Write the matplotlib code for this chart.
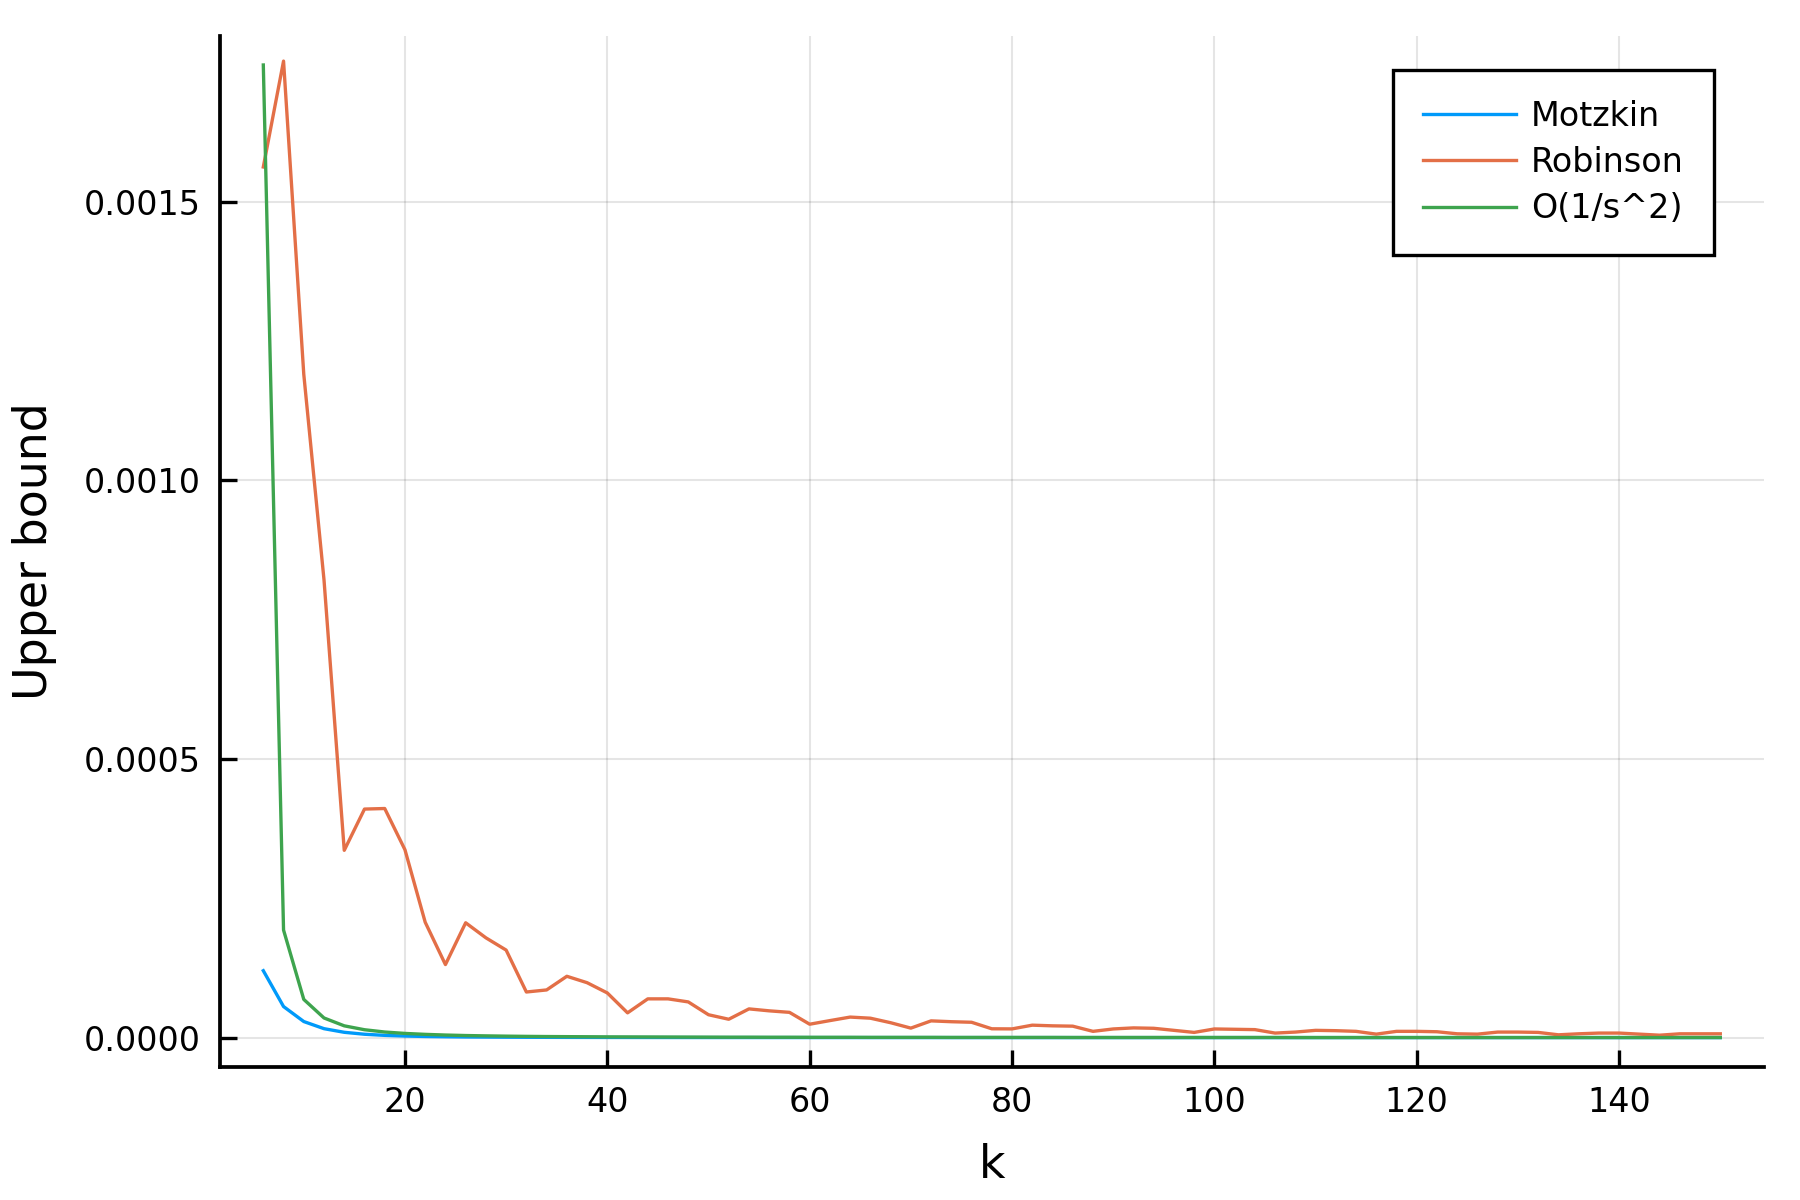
import matplotlib
matplotlib.use('Agg')
from matplotlib import pyplot as plt
from matplotlib.ticker import FormatStrFormatter


K = [6, 8, 10, 12, 14, 16, 18, 20, 22, 24, 26, 28, 30, 32, 34, 36, 38, 40,
     42, 44, 46, 48, 50, 52, 54, 56, 58, 60, 62, 64, 66, 68, 70, 72, 74, 76,
     78, 80, 82, 84, 86, 88, 90, 92, 94, 96, 98, 100, 102, 104, 106, 108,
     110, 112, 114, 116, 118, 120, 122, 124, 126, 128, 130, 132, 134, 136,
     138, 140, 142, 144, 146, 148, 150]

MOTZKIN = [1.20e-4, 5.57e-5, 2.88e-5, 1.60e-5, 9.5e-6, 6.0e-6, 4.0e-6, 2.8e-6,
           2.0e-6, 1.5e-6, 1.1e-6, 9.0e-7, 7.0e-7, 5.5e-7, 4.5e-7, 3.7e-7,
           3.1e-7, 2.6e-7, 2.2e-7, 1.9e-7, 1.6e-7, 1.4e-7, 1.2e-7, 1.1e-7,
           1.0e-7, 9e-8, 8e-8, 7e-8, 7e-8, 6e-8, 6e-8, 5e-8, 5e-8, 5e-8,
           4e-8, 4e-8, 4e-8, 3e-8, 3e-8, 3e-8, 3e-8, 3e-8, 2e-8, 2e-8,
           2e-8, 2e-8, 2e-8, 2e-8, 2e-8, 2e-8, 1e-8, 1e-8, 1e-8, 1e-8,
           1e-8, 1e-8, 1e-8, 1e-8, 1e-8, 1e-8, 1e-8, 1e-8, 1e-8, 1e-8,
           1e-8, 1e-8, 1e-8, 1e-8, 1e-8, 1e-8, 1e-8, 1e-8, 1e-8]

ROBINSON = [1.562e-3, 1.752e-3, 1.190e-3, 8.21e-4, 3.36e-4, 4.10e-4, 4.11e-4,
            3.37e-4, 2.07e-4, 1.31e-4, 2.06e-4, 1.79e-4, 1.57e-4, 8.18e-5,
            8.55e-5, 1.10e-4, 9.85e-5, 8.01e-5, 4.44e-5, 6.95e-5, 6.95e-5,
            6.40e-5, 4.10e-5, 3.29e-5, 5.15e-5, 4.80e-5, 4.53e-5, 2.40e-5,
            3.05e-5, 3.68e-5, 3.48e-5, 2.67e-5, 1.70e-5, 3.00e-5, 2.85e-5,
            2.75e-5, 1.58e-5, 1.56e-5, 2.23e-5, 2.11e-5, 2.05e-5, 1.12e-5,
            1.55e-5, 1.74e-5, 1.67e-5, 1.30e-5, 9.3e-6, 1.55e-5, 1.49e-5,
            1.43e-5, 8.1e-6, 9.9e-6, 1.30e-5, 1.24e-5, 1.12e-5, 6.2e-6,
            1.12e-5, 1.12e-5, 1.05e-5, 6.8e-6, 6.2e-6, 9.9e-6, 9.9e-6, 9.3e-6,
            5.0e-6, 6.8e-6, 8.1e-6, 8.1e-6, 6.2e-6, 4.3e-6, 6.8e-6, 6.8e-6,
            6.8e-6]

ORDER_BOUND = [1.745e-3, 1.93e-4, 6.85e-5, 3.52e-5, 2.11e-5, 1.41e-5, 1.00e-5,
               7.5e-6, 5.8e-6, 4.6e-6, 3.7e-6, 3.1e-6, 2.6e-6, 2.2e-6, 1.9e-6,
               1.7e-6, 1.5e-6, 1.3e-6, 1.2e-6, 1.1e-6, 1.0e-6, 9e-7, 8e-7,
               7e-7, 7e-7, 6e-7, 6e-7, 5e-7, 5e-7, 5e-7, 4e-7, 4e-7, 4e-7,
               4e-7, 3e-7, 3e-7, 3e-7, 3e-7, 3e-7, 3e-7, 2e-7, 2e-7, 2e-7,
               2e-7, 2e-7, 2e-7, 2e-7, 2e-7, 2e-7, 2e-7, 2e-7, 1e-7, 1e-7,
               1e-7, 1e-7, 1e-7, 1e-7, 1e-7, 1e-7, 1e-7, 1e-7, 1e-7, 1e-7,
               1e-7, 1e-7, 1e-7, 1e-7, 1e-7, 1e-7, 1e-7, 1e-7, 1e-7, 1e-7]

LABELS = ['Motzkin', 'Robinson', 'O(1/s^2)']
COLORS = ['#009AFA', '#E36F47', '#3EA44E']

X_TICKS = [20, 40, 60, 80, 100, 120, 140]
Y_TICKS = [0.0, 0.0005, 0.0010, 0.0015]


plt.rcParams['font.family'] = ['DejaVu Sans']

fig = plt.figure(figsize=(6, 4), dpi=300)
ax = fig.add_axes([0.122, 0.111, 0.858, 0.859])

for series, label, color in zip([MOTZKIN, ROBINSON, ORDER_BOUND], LABELS, COLORS):
    ax.plot(K, series, color=color, lw=0.8, label=label)

# limits padded like Plots.jl (3% of the data range)
ax.set_xlim(1.68, 154.32)
ax.set_ylim(-0.0000524, 0.001797)

ax.set_xticks(X_TICKS)
ax.set_yticks(Y_TICKS)
ax.yaxis.set_major_formatter(FormatStrFormatter('%.4f'))
ax.tick_params(direction='in', length=4, width=0.8, labelsize=8, color='black')
ax.tick_params(axis='x', pad=4.5)
ax.tick_params(axis='y', pad=4.5)
ax.grid(True, color='black', alpha=0.1, lw=0.5)

for side in ['top', 'right']:
    ax.spines[side].set_visible(False)
for side in ['left', 'bottom']:
    ax.spines[side].set_linewidth(0.9)

ax.set_xlabel('k', fontsize=11, labelpad=5.9)
ax.set_ylabel('Upper bound', fontsize=11, labelpad=6.5)

leg = ax.legend(loc='upper right', bbox_to_anchor=(0.9676, 0.9675),
                borderaxespad=0, fontsize=8, fancybox=False, framealpha=1,
                edgecolor='black', handlelength=2.8, handletextpad=0.45,
                labelspacing=0.4, borderpad=0.9)
leg.get_frame().set_linewidth(0.8)

fig.savefig('out.png', dpi=300)
